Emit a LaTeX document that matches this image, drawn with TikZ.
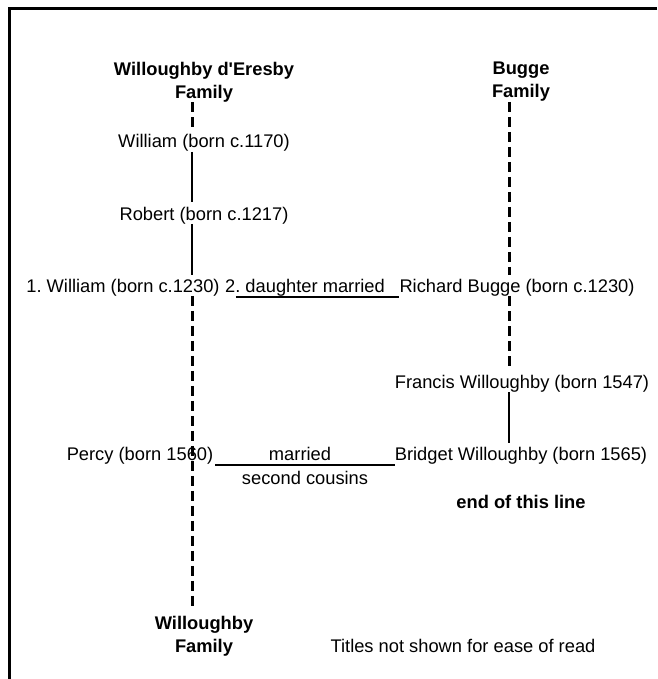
\documentclass[tikz,border=0pt]{standalone}
\usepackage{fontspec}
\setmainfont{Liberation Sans}[Ligatures=TeXOff]
\frenchspacing
\begin{document}
\begin{tikzpicture}[x=1pt,y=-1pt,
  every node/.style={inner sep=0pt, font=\fontsize{18.3}{23}\selectfont},
  txt/.style={anchor=base},
  ttl/.style={anchor=north, align=center, font=\bfseries\fontsize{18.3}{23}\selectfont},
  spine/.style={line width=3pt, dash pattern=on 10pt off 5pt},
  link/.style={line width=1.1pt},
  frame/.style={line width=3pt}]
\useasboundingbox (0,0) rectangle (657,679);
\fill[white] (0,0) rectangle (657,679);
\draw[frame] (657,8.5) -- (9.5,8.5) -- (9.5,679);

\coordinate (lx) at (192,0);
\coordinate (rx) at (509,0);

% titles
\node[ttl] (lfam) at (204,62) {Willoughby d'Eresby\\Family};
\node[ttl] (rfam) at (521,62) {Bugge\\Family};
\node[ttl] (lbot) at (204,616) {Willoughby\\Family};

% people
\node[txt] (w1170) at (204,148) {William (born c.1170)};
\node[txt] (r1217) at (204,220) {Robert (born c.1217)};
\node[txt] (w1230) at (123,292) {1. William (born c.1230)};
\node[txt] (dm) at (305,292) {2. daughter married};
\node[txt] (rbugge) at (517,292) {Richard Bugge (born c.1230)};
\node[txt] (francis) at (522,388) {Francis Willoughby (born 1547)};
\node[txt] (percy) at (140,460) {Percy (born 1560)};
\node[txt] (married) at (300,460) {married};
\node[txt] (cousins) at (305,484) {second cousins};
\node[txt] (bridget) at (521,460) {Bridget Willoughby (born 1565)};
\node[txt, font=\bfseries\fontsize{18.3}{23}\selectfont] (endline) at (521,508) {end of this line};
\node[txt] (note) at (463,652) {Titles not shown for ease of read};

% left family line
\draw[spine] (lfam.south -| lx) -- ([yshift=4pt]w1170.north -| lx);
\draw[link] (w1170.south -| lx) -- ([yshift=5pt]r1217.north -| lx);
\draw[link] (r1217.south -| lx) -- ([yshift=4pt]w1230.north -| lx);
\draw[spine] (w1230.south -| lx) -- ([yshift=10pt]lbot.north -| lx);

% right family line
\draw[spine] (rfam.south -| rx) -- ([yshift=4pt]rbugge.north -| rx);
\draw[spine] (rbugge.south -| rx) -- ([yshift=6pt]francis.north -| rx);
\draw[link] (francis.south -| rx) -- ([yshift=4pt]bridget.north -| rx);

% marriages
\draw[link] ([xshift=11pt,yshift=-1pt]dm.south west) -- ([yshift=-1pt]dm.south -| rbugge.west);
\draw[link] ([xshift=2pt,yshift=-5pt]percy.base east) -- ([yshift=-5pt]bridget.base west);
\end{tikzpicture}
\end{document}
